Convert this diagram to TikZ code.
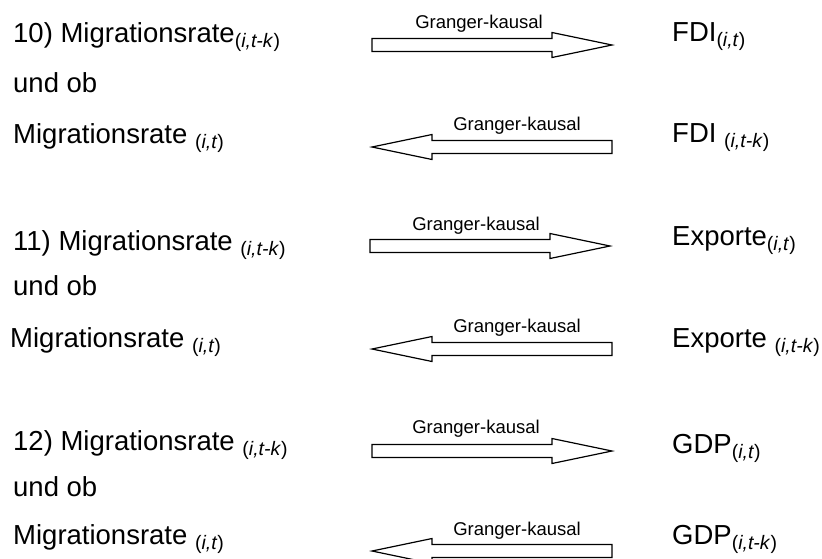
\documentclass[tikz,border=0pt]{standalone}
\usepackage{fontspec}
\setmainfont{Liberation Sans}
\newcommand\subi[1]{\raisebox{-5pt}{\fontsize{19.5}{21}\selectfont #1}}
\newcommand\sitk{\subi{(\textit{i,t-k})}}
\newcommand\sit{\subi{(\textit{i,t})}}
\begin{document}
\begin{tikzpicture}[x=1pt,y=-1pt,
  main/.style={anchor=base west, inner sep=0pt, font=\fontsize{27.5}{30}\selectfont},
  lab/.style={anchor=base, inner sep=0pt, font=\fontsize{18.5}{20}\selectfont},
  blockarrow/.style={draw=black, line width=1.2pt, fill=white, line join=miter},
  rarr/.pic={\draw[blockarrow] (0,-6.5) -- (180,-6.5) -- (180,-12.5) -- (240,0) -- (180,12.5) -- (180,6.5) -- (0,6.5) -- cycle;},
  larr/.pic={\draw[blockarrow] (0,0) -- (60,-12.5) -- (60,-6.5) -- (240,-6.5) -- (240,6.5) -- (60,6.5) -- (60,12.5) -- cycle;}]
\useasboundingbox (0,0) rectangle (822,558);
% row 1
\node[main] (l1a) at (13,42) {10) Migrationsrate\sitk};
\node[main] (l1b) at (13,92) {und ob};
\node[main] (l1c) at (13,143) {Migrationsrate \sit};
\node[main] (r1a) at (672,41) {FDI\sit};
\node[main] (r1b) at (672,142) {FDI \sitk};
\pic at (372,45) {rarr};
\pic at (372,147) {larr};
\node[lab] (g1a) at (479,28) {Granger-kausal};
\node[lab] (g1b) at (517,130) {Granger-kausal};
% row 2
\node[main] (l2a) at (13,250) {11) Migrationsrate \sitk};
\node[main] (l2b) at (13,295) {und ob};
\node[main] (l2c) at (10,347) {Migrationsrate \sit};
\node[main] (r2a) at (672,245) {Exporte\sit};
\node[main] (r2b) at (672,347) {Exporte \sitk};
\pic at (370,246) {rarr};
\pic at (372,349) {larr};
\node[lab] (g2a) at (476,230) {Granger-kausal};
\node[lab] (g2b) at (517,332) {Granger-kausal};
% row 3
\node[main] (l3a) at (13,450) {12) Migrationsrate \sitk};
\node[main] (l3b) at (13,496) {und ob};
\node[main] (l3c) at (13,544) {Migrationsrate \sit};
\node[main] (r3a) at (672,453) {GDP\sit};
\node[main] (r3b) at (672,544) {GDP\sitk};
\pic at (372,451) {rarr};
\pic at (372,551) {larr};
\node[lab] (g3a) at (476,433) {Granger-kausal};
\node[lab] (g3b) at (517,535) {Granger-kausal};
\end{tikzpicture}
\end{document}
